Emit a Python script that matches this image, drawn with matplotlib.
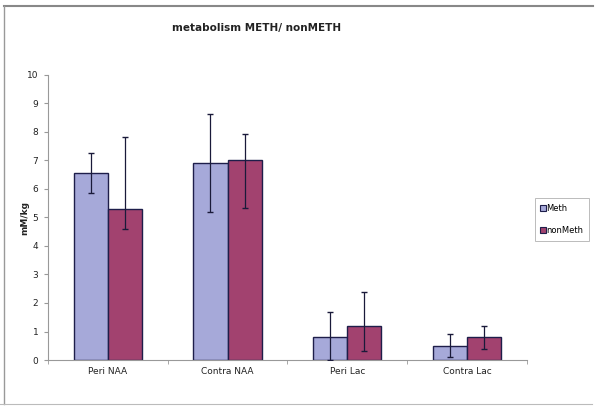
import matplotlib
matplotlib.use("Agg")
import matplotlib.pyplot as plt
import numpy as np
from matplotlib.lines import Line2D

categories = ["Peri NAA", "Contra NAA", "Peri Lac", "Contra Lac"]
series_names = ["Meth", "nonMeth"]
meth = [6.55, 6.92, 0.80, 0.50]
meth_err_low = [0.70, 1.74, 0.80, 0.40]
meth_err_high = [0.72, 1.70, 0.90, 0.40]
nonmeth = [5.28, 7.02, 1.20, 0.80]
nonmeth_err_low = [0.70, 1.70, 0.90, 0.40]
nonmeth_err_high = [2.53, 0.90, 1.20, 0.40]
yticks = list(range(0, 11))

fig = plt.figure(figsize=(6, 4.11), dpi=100)
ax = fig.add_axes([0.08, 0.124, 0.798, 0.694])

x = np.arange(len(categories))
w = 0.285
c1 = "#A6A9D9"
c2 = "#A2426F"
edge = "#1E1E4A"
ax.bar(x - w / 2, meth, w, color=c1, edgecolor=edge, linewidth=1.0, zorder=2)
ax.bar(x + w / 2, nonmeth, w, color=c2, edgecolor=edge, linewidth=1.0, zorder=2)
ax.errorbar(x - w / 2, meth, yerr=[meth_err_low, meth_err_high], fmt="none",
            ecolor="#1A1A3A", elinewidth=0.9, capsize=2.5, capthick=1.0, zorder=3)
ax.errorbar(x + w / 2, nonmeth, yerr=[nonmeth_err_low, nonmeth_err_high], fmt="none",
            ecolor="#1A1A3A", elinewidth=0.9, capsize=2.5, capthick=1.0, zorder=3)

ax.set_xlim(-0.5, len(categories) - 0.5)
ax.set_ylim(0, 10)
ax.set_yticks(yticks)
ax.set_yticklabels([str(t) for t in yticks], fontsize=6.5, color="#222222")
ax.set_xticks(x)
ax.set_xticklabels(categories, fontsize=6.5, color="#222222")
ax.set_xticks(np.arange(-0.5, len(categories), 1.0), minor=True)
ax.tick_params(axis="x", which="major", length=0, pad=5)
ax.tick_params(axis="x", which="minor", length=3, color="#999999", direction="out")
ax.tick_params(axis="y", length=3, color="#999999", direction="out", pad=4)
for s in ["top", "right"]:
    ax.spines[s].set_visible(False)
for s in ["left", "bottom"]:
    ax.spines[s].set_color("#999999")
    ax.spines[s].set_linewidth(0.8)

fig.text(0.428, 0.932, "metabolism METH/ nonMETH", ha="center", va="center",
         fontsize=7.5, fontweight="bold", color="#222222")
fig.text(0.042, 0.47, "mM/kg", ha="center", va="center", rotation=90,
         fontsize=6.5, fontweight="bold", color="#222222")

handles = [Line2D([], [], marker="s", linestyle="none", markersize=4,
                  markerfacecolor=c, markeredgecolor=edge, markeredgewidth=0.8)
           for c in (c1, c2)]
leg = fig.legend(handles, series_names, loc="center left",
                 bbox_to_anchor=(535 / 600, 1 - 219.5 / 411), fontsize=6,
                 frameon=True, fancybox=False, edgecolor="#AAAAAA",
                 handlelength=0.5, handletextpad=0.15, labelspacing=1.5,
                 borderpad=0.7, borderaxespad=0.0)
leg.get_frame().set_linewidth(0.7)

# outer chart border
fig.add_artist(Line2D([4 / 600, 593 / 600], [1 - 6 / 411, 1 - 6 / 411],
                      transform=fig.transFigure, color="#888888", linewidth=1.5))
fig.add_artist(Line2D([4 / 600, 4 / 600], [1 - 6 / 411, 1 - 404 / 411],
                      transform=fig.transFigure, color="#999999", linewidth=1.0))
fig.add_artist(Line2D([0, 592 / 600], [1 - 404 / 411, 1 - 404 / 411],
                      transform=fig.transFigure, color="#BBBBBB", linewidth=0.8))

fig.savefig("out.png", dpi=100)
